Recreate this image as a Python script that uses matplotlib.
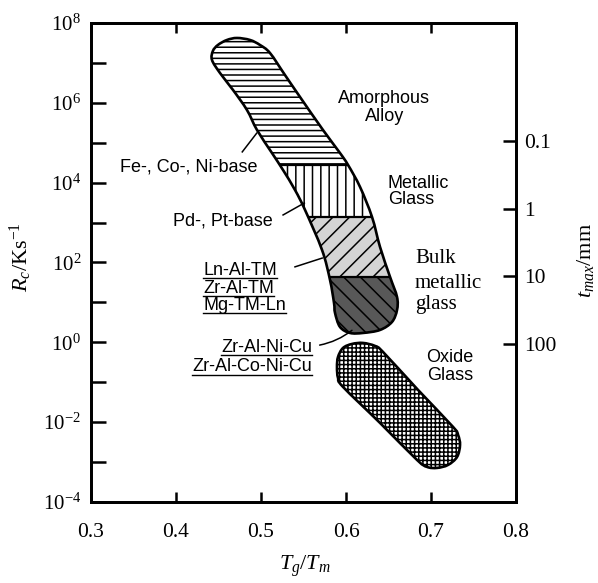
import numpy as np
import matplotlib
matplotlib.use("Agg")
import matplotlib.pyplot as plt
from matplotlib.path import Path
from matplotlib.patches import PathPatch, Rectangle
from matplotlib.lines import Line2D
from matplotlib.ticker import NullLocator
from matplotlib.transforms import IdentityTransform

plt.rcParams["font.family"] = "serif"
plt.rcParams["font.serif"] = ["Liberation Serif", "DejaVu Serif"]
plt.rcParams["mathtext.fontset"] = "custom"
plt.rcParams["mathtext.rm"] = "Liberation Serif"
plt.rcParams["mathtext.it"] = "Liberation Serif:italic"
plt.rcParams["hatch.linewidth"] = 1.1

# --- outline of the metallic glass band: Tg/Tm and log10(Rc) ---
# left edge top -> bottom, round bottom end, right edge bottom -> top, round top end
band_tgtm = [0.4424, 0.4518, 0.4671, 0.4835, 0.4953, 0.5129, 0.5259, 0.540, 0.5518,
             0.5718, 0.5812, 0.5859, 0.5871, 0.5929,
             0.6047, 0.620, 0.640, 0.6541, 0.660, 0.660,
             0.6518, 0.640, 0.6306, 0.6165, 0.6024, 0.5929, 0.5729, 0.5459, 0.5282,
             0.5106, 0.4988, 0.4871, 0.4718, 0.460, 0.4494, 0.4435]
band_logrc = [7.073, 6.747, 6.322, 5.821, 5.320, 4.744, 4.318, 3.817, 3.316,
              2.314, 1.562, 0.986, 0.735, 0.385,
              0.234, 0.234, 0.309, 0.510, 0.810, 1.136,
              1.637, 2.389, 3.140, 3.892, 4.443, 4.743, 5.320, 6.146, 6.697,
              7.248, 7.449, 7.574, 7.624, 7.574, 7.449, 7.299]

# alloy families inside the band (log10 Rc limits)
family_names = ["Fe-, Co-, Ni-base", "Pd-, Pt-base", "Ln/Zr/Mg", "Zr-Al-(Co)-Ni-Cu"]
family_top = [8.0, 4.44, 3.14, 1.64]
family_bottom = [4.44, 3.14, 1.64, -1.0]
family_hatch = ["---", "||", "//", "\\\\"]
family_face = ["white", "white", "#d4d4d4", "#585858"]

# --- oxide glass outline ---
oxide_tgtm = [0.5894, 0.5906, 0.5965, 0.6071, 0.6200, 0.6341, 0.6435, 0.6847,
              0.7259, 0.7318, 0.7341, 0.7306, 0.7200, 0.7071, 0.6953, 0.6835,
              0.640, 0.5965, 0.5906]
oxide_logrc = [-0.617, -0.367, -0.141, -0.041, -0.016, -0.091, -0.241, -1.193,
               -2.120, -2.321, -2.571, -2.872, -3.072, -3.147, -3.122, -2.947,
               -2.020, -1.118, -0.893]

# right axis: maximum thickness t_max (mm), log10 Rc = 3.35 - 1.7 log10 t
tmax_ticks = [0.1, 1, 10, 100]
tmax_labels = ["0.1", "1", "10", "100"]


def smooth_path(xs, logys):
    # closed Catmull-Rom outline drawn as cubic Bezier pieces
    p = np.column_stack([xs, logys])
    n = len(p)
    verts = [p[0]]
    codes = [Path.MOVETO]
    for i in range(n):
        p0, p1, p2, p3 = p[i - 1], p[i], p[(i + 1) % n], p[(i + 2) % n]
        verts += [p1 + (p2 - p0) / 6, p2 - (p3 - p1) / 6, p2]
        codes += [Path.CURVE4] * 3
    verts = np.array(verts)
    verts[:, 1] = 10 ** verts[:, 1]
    return Path(verts, codes)


fig = plt.figure(figsize=(5.98, 5.83), dpi=100)
ax = fig.add_axes([0.152, 0.139, 0.711, 0.8216])
ax.set_yscale("log")
ax.set_xlim(0.3, 0.8)
ax.set_ylim(1e-4, 1e8)

# band
band = PathPatch(smooth_path(band_tgtm, band_logrc), facecolor="none",
                 edgecolor="black", linewidth=1.9, zorder=4)
ax.add_patch(band)
for top, bot, h, fc in zip(family_top, family_bottom, family_hatch, family_face):
    r = Rectangle((0.3, 10 ** bot), 0.5, 10 ** top - 10 ** bot, facecolor=fc,
                  edgecolor="black", linewidth=0, hatch=h, zorder=2)
    ax.add_patch(r)
    r.set_clip_path(band)
    ln, = ax.plot([0.3, 0.8], [10 ** bot, 10 ** bot], color="black", lw=1.6, zorder=3)
    ln.set_clip_path(band)

# oxide glass
oxide_path = smooth_path(oxide_tgtm, oxide_logrc)
ax.add_patch(PathPatch(oxide_path, facecolor="white", edgecolor="black",
                       linewidth=0, hatch="++++", zorder=2))
ax.add_patch(PathPatch(oxide_path, facecolor="none", edgecolor="black",
                       linewidth=1.9, zorder=4))

# ticks
xt = [0.3, 0.4, 0.5, 0.6, 0.7, 0.8]
ax.set_xticks(xt)
ax.set_xticklabels(["0.3", "0.4", "0.5", "0.6", "0.7", "0.8"])
ax.tick_params(axis="x", direction="in", top=True, length=7.5, width=1.8,
               pad=15, labelsize=15.5)
yt = [10.0 ** k for k in range(-4, 9)]
ax.set_yticks(yt)
ax.set_yticklabels([r"$10^{%d}$" % k if k % 2 == 0 else "" for k in range(-4, 9)])
ax.yaxis.set_minor_locator(NullLocator())
ax.tick_params(axis="y", direction="in", length=11, width=1.8, pad=7,
               labelsize=15)
for s in ax.spines.values():
    s.set_linewidth(2.0)

ax2 = ax.twinx()
ax2.set_yscale("log")
ax2.set_ylim(10 ** ((3.35 + 4) / 1.7), 10 ** ((3.35 - 8) / 1.7))
ax2.set_yticks(tmax_ticks)
ax2.set_yticklabels(tmax_labels)
ax2.yaxis.set_minor_locator(NullLocator())
ax2.tick_params(axis="y", direction="in", length=9.5, width=1.8, pad=6,
                labelsize=15.5)
for s in ax2.spines.values():
    s.set_linewidth(2.0)

# axis labels
ax.set_ylabel(r"$R_c$/Ks$^{-1}$", fontsize=16)
ax.yaxis.set_label_coords(-0.134, 0.511)
ax.set_xlabel(r"$T_g/T_m$", fontsize=16)
ax.xaxis.set_label_coords(0.504, -0.108)
ax2.set_ylabel(r"$t_{max}$/mm", fontsize=16)
ax2.yaxis.set_label_coords(1.138, 0.505)

# region labels
sans = dict(family="Liberation Sans", fontsize=13, va="baseline", zorder=6)
ax.text(0.645, 10 ** 6.0, "Amorphous", ha="center", **sans)
ax.text(0.645, 10 ** 5.545, "Alloy", ha="center", **sans)
ax.text(0.649, 10 ** 3.867, "Metallic", ha="left", **sans)
ax.text(0.649, 10 ** 3.466, "Glass", ha="left", **sans)
ax.text(0.722, 10 ** -0.49, "Oxide", ha="center", **sans)
ax.text(0.722, 10 ** -0.94, "Glass", ha="center", **sans)
for word, ly in zip(["Bulk", "metallic", "glass"], [1.99, 1.36, 0.84]):
    ax.text(0.681, 10 ** ly, word, ha="left", va="baseline", fontsize=15)

ax.text(0.4965, 10 ** 4.29, family_names[0], ha="right", **sans)
ax.text(0.514, 10 ** 2.915, family_names[1], ha="right", **sans)

underlined = []
for word, ly in zip(["Ln-Al-TM", "Zr-Al-TM", "Mg-TM-Ln"], [1.687, 1.236, 0.81]):
    underlined.append(ax.text(0.432, 10 ** ly, word, ha="left", **sans))
for word, ly in zip(["Zr-Al-Ni-Cu", "Zr-Al-Co-Ni-Cu"], [-0.24, -0.72]):
    underlined.append(ax.text(0.560, 10 ** ly, word, ha="right", **sans))

# leader lines
leaders = [((0.478, 4.77), (0.495, 5.24)),
           ((0.526, 3.19), (0.551, 3.49)),
           ((0.540, 1.89), (0.572, 2.11))]
for (x0, l0), (x1, l1) in leaders:
    ax.plot([x0, x1], [10 ** l0, 10 ** l1], color="black", lw=1.1, zorder=5)
ax.annotate("", xy=(0.607, 10 ** 0.30), xytext=(0.569, 10 ** -0.07),
            arrowprops=dict(arrowstyle="-", lw=1.1, color="black",
                            connectionstyle="arc3,rad=0.12",
                            shrinkA=0, shrinkB=0), zorder=5)

# underline the alloy systems
fig.canvas.draw()
rend = fig.canvas.get_renderer()
for t in underlined:
    bb = t.get_window_extent(rend)
    fig.add_artist(Line2D([bb.x0, bb.x1], [bb.y0 + 0.5, bb.y0 + 0.5],
                          transform=IdentityTransform(), color="black", lw=1.0))

fig.savefig("out.png", dpi=100)
